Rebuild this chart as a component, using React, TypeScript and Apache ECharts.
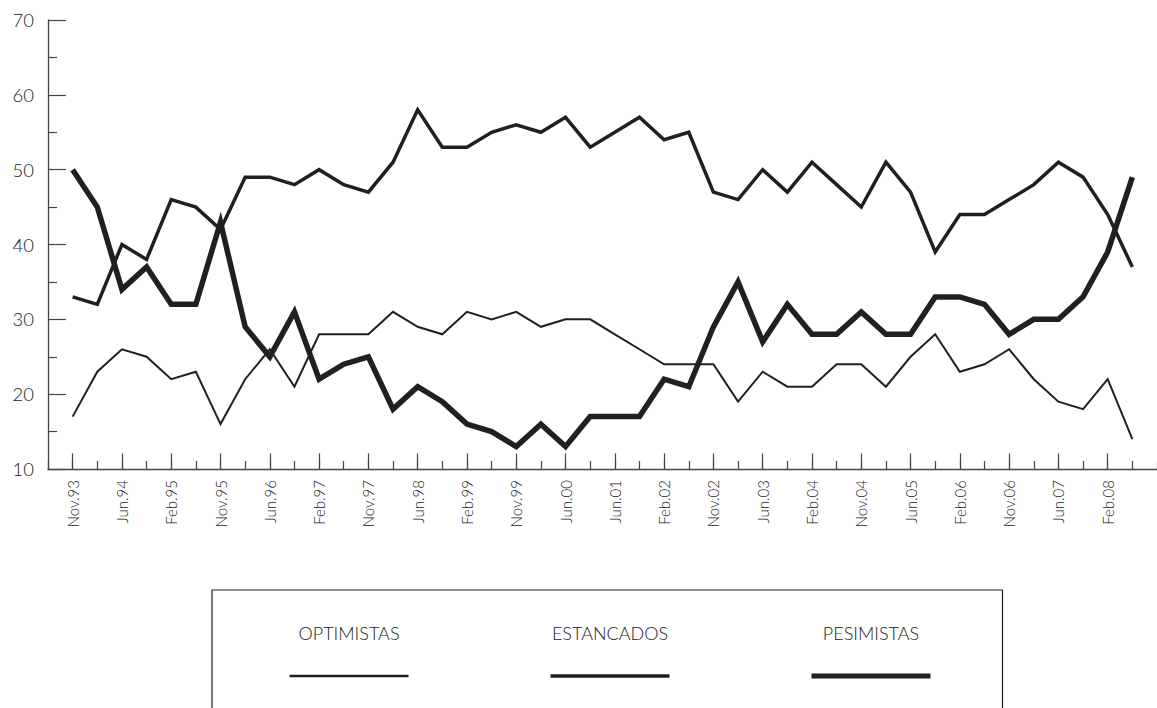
import React, { useEffect, useRef } from "react";
import * as echarts from "echarts";

const categories = [
  "Nov.93", "Mar.94", "Jun.94", "Oct.94", "Feb.95", "Jun.95", "Nov.95", "Mar.96",
  "Jun.96", "Oct.96", "Feb.97", "Jun.97", "Nov.97", "Mar.98", "Jun.98", "Oct.98",
  "Feb.99", "Jun.99", "Nov.99", "Mar.00", "Jun.00", "Dec.00", "Jun.01", "Oct.01",
  "Feb.02", "Jun.02", "Nov.02", "Mar.03", "Jun.03", "Oct.03", "Feb.04", "Jun.04",
  "Nov.04", "Mar.05", "Jun.05", "Oct.05", "Feb.06", "Jun.06", "Nov.06", "Mar.07",
  "Jun.07", "Oct.07", "Feb.08", "Jun.08",
];

const optimistas = [
  17, 23, 26, 25, 22, 23, 16, 22, 26, 21, 28, 28, 28, 31, 29, 28, 31, 30, 31, 29,
  30, 30, 28, 26, 24, 24, 24, 19, 23, 21, 21, 24, 24, 21, 25, 28, 23, 24, 26, 22,
  19, 18, 22, 14,
];

const estancados = [
  33, 32, 40, 38, 46, 45, 42, 49, 49, 48, 50, 48, 47, 51, 58, 53, 53, 55, 56, 55,
  57, 53, 55, 57, 54, 55, 47, 46, 50, 47, 51, 48, 45, 51, 47, 39, 44, 44, 46, 48,
  51, 49, 44, 37,
];

const pesimistas = [
  50, 45, 34, 37, 32, 32, 43, 29, 25, 31, 22, 24, 25, 18, 21, 19, 16, 15, 13, 16,
  13, 17, 17, 17, 22, 21, 29, 35, 27, 32, 28, 28, 31, 28, 28, 33, 33, 32, 28, 30,
  30, 33, 39, 49,
];

const seriesNames = ["OPTIMISTAS", "ESTANCADOS", "PESIMISTAS"];
const seriesValues = [optimistas, estancados, pesimistas];
const lineWidths = [2, 3.5, 5.5];
const legendLineHeights = [2.5, 3.5, 4.8];

const INK = "#231f20";
const AXIS = "#444444";
const TEXT = "#222222";
const FONT = "Lato, 'Open Sans', sans-serif";

export default function App() {
  const ref = useRef<HTMLDivElement>(null);

  useEffect(() => {
    document.body.style.margin = "0";
    if (!ref.current) return;
    const chart = echarts.init(ref.current, null, { renderer: "svg" });

    const xLabel = (v: number) =>
      Number.isInteger(v) && v >= 0 && v % 2 === 0 && v < categories.length
        ? categories[v]
        : "";

    const rich: Record<string, any> = {
      t: {
        fontSize: 18,
        fontFamily: FONT,
        fontWeight: 300,
        color: TEXT,
        width: 119,
        align: "center",
        lineHeight: 50,
      },
    };
    legendLineHeights.forEach((h, i) => {
      rich["l" + i] = {
        width: 119,
        height: h,
        backgroundColor: INK,
        lineHeight: 36,
      };
    });

    const option: any = {
      animation: false,
      backgroundColor: "#ffffff",
      grid: { left: 48, right: -16, top: 20, bottom: 239, containLabel: false },
      xAxis: [
        {
          type: "value",
          position: "bottom",
          min: -1,
          max: 44,
          interval: 1,
          axisLine: { show: true, onZero: false, lineStyle: { color: AXIS, width: 1.3 } },
          axisTick: { show: true, inside: true, length: 8, lineStyle: { color: AXIS, width: 1.2 } },
          axisLabel: {
            show: true,
            rotate: 90,
            margin: 11,
            fontSize: 15,
            fontFamily: FONT,
            fontWeight: 300,
            color: TEXT,
            formatter: xLabel,
          },
          splitLine: { show: false },
        },
        {
          type: "value",
          position: "bottom",
          min: -1,
          max: 44,
          interval: 2,
          axisLine: { show: false, onZero: false },
          axisTick: { show: false, inside: true },
          minorTick: {
            show: true,
            splitNumber: 2,
            length: 15.5,
            lineStyle: { color: AXIS, width: 1.2 },
          },
          axisLabel: { show: false },
          splitLine: { show: false },
          minorSplitLine: { show: false },
        },
      ],
      yAxis: {
        type: "value",
        min: 10,
        max: 70,
        interval: 10,
        axisLine: { show: true, onZero: false, lineStyle: { color: AXIS, width: 1.3 } },
        axisTick: { show: true, inside: true, length: 18, lineStyle: { color: AXIS, width: 1.2 } },
        minorTick: { show: true, splitNumber: 2, length: 9, lineStyle: { color: AXIS, width: 1.2 } },
        axisLabel: { margin: 14, fontSize: 18.5, fontFamily: FONT, fontWeight: 300, color: TEXT },
        splitLine: { show: false },
        minorSplitLine: { show: false },
      },
      legend: {
        left: 212,
        top: 590,
        orient: "horizontal",
        selectedMode: false,
        icon: "rect",
        itemWidth: 0,
        itemHeight: 0,
        itemStyle: { opacity: 0 },
        itemGap: 137,
        padding: [34, 72, 50, 72.5],
        borderColor: INK,
        borderWidth: 1.2,
        data: seriesNames,
        formatter: (name: string) => {
          const idx = seriesNames.indexOf(name);
          return `{t|${name}}\n{l${idx}|}`;
        },
        textStyle: { rich },
      },
      series: seriesNames.map((name, si) => ({
        name,
        type: "line",
        xAxisIndex: 0,
        yAxisIndex: 0,
        symbol: "none",
        showSymbol: false,
        silent: true,
        data: seriesValues[si].map((v, i) => [i, v]),
        lineStyle: { color: INK, width: lineWidths[si], join: "miter", miterLimit: 10, cap: "butt" },
        itemStyle: { color: INK },
      })),
    };

    chart.setOption(option);
    return () => chart.dispose();
  }, []);

  return (
    <div
      ref={ref}
      style={{ position: "absolute", left: 0, top: 0, width: 1157, height: 708 }}
    />
  );
}
